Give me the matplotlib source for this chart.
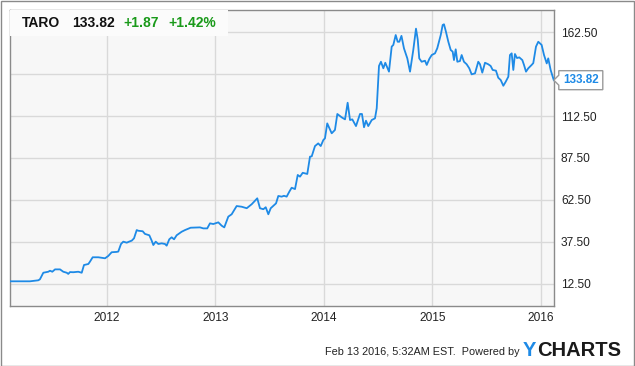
import matplotlib
matplotlib.use('Agg')
from matplotlib import pyplot as plt
from matplotlib.patches import Rectangle, Polygon

plt.rcParams['font.family'] = ['Liberation Sans', 'DejaVu Sans']

# TARO weekly-ish closes (decimal year, price)
years = [2011.106, 2011.290, 2011.367, 2011.382, 2011.413, 2011.459, 2011.475, 2011.496,
         2011.521, 2011.567, 2011.597, 2011.629, 2011.643, 2011.659, 2011.689, 2011.735,
         2011.767, 2011.788, 2011.828, 2011.843, 2011.868, 2011.920, 2011.982, 2012.012,
         2012.043, 2012.089, 2012.104, 2012.129, 2012.150, 2012.182, 2012.203, 2012.228,
         2012.249, 2012.274, 2012.288, 2012.329, 2012.350, 2012.390, 2012.412, 2012.427,
         2012.449, 2012.473, 2012.504, 2012.535, 2012.550, 2012.574, 2012.596, 2012.618,
         2012.642, 2012.688, 2012.719, 2012.771, 2012.857, 2012.888, 2012.924, 2012.949,
         2012.980, 2013.026, 2013.057, 2013.081, 2013.118, 2013.149, 2013.195, 2013.241,
         2013.288, 2013.334, 2013.385, 2013.410, 2013.441, 2013.463, 2013.487, 2013.509,
         2013.558, 2013.579, 2013.610, 2013.631, 2013.656, 2013.680, 2013.702, 2013.733,
         2013.758, 2013.779, 2013.804, 2013.846, 2013.871, 2013.887, 2013.917, 2013.947,
         2013.970, 2013.994, 2014.009, 2014.030, 2014.071, 2014.101, 2014.123, 2014.163,
         2014.194, 2014.218, 2014.240, 2014.261, 2014.295, 2014.332, 2014.350, 2014.369,
         2014.387, 2014.408, 2014.440, 2014.470, 2014.486, 2014.507, 2014.525, 2014.547,
         2014.565, 2014.599, 2014.624, 2014.639, 2014.661, 2014.679, 2014.694, 2014.714,
         2014.737, 2014.768, 2014.793, 2014.823, 2014.848, 2014.864, 2014.878, 2014.900,
         2014.931, 2014.947, 2014.971, 2014.993, 2015.023, 2015.044, 2015.076, 2015.094,
         2015.106, 2015.124, 2015.146, 2015.168, 2015.186, 2015.198, 2015.214, 2015.229,
         2015.253, 2015.269, 2015.290, 2015.315, 2015.339, 2015.361, 2015.392, 2015.422,
         2015.438, 2015.459, 2015.484, 2015.514, 2015.536, 2015.555, 2015.585, 2015.606,
         2015.629, 2015.653, 2015.675, 2015.699, 2015.714, 2015.730, 2015.745, 2015.760,
         2015.779, 2015.800, 2015.828, 2015.843, 2015.862, 2015.883, 2015.914, 2015.929,
         2015.954, 2015.975, 2016.006, 2016.028, 2016.053, 2016.067, 2016.089, 2016.118]
prices = [14.1, 14.1, 14.7, 15.3, 19.2, 19.8, 20.4, 19.8,
          21.2, 21.2, 19.8, 19.2, 18.5, 19.6, 19.5, 19.8,
          19.2, 23.8, 24.4, 25.8, 28.4, 28.4, 27.8, 29.2,
          31.4, 31.6, 31.8, 36.3, 37.7, 37.1, 37.7, 38.3,
          39.7, 44.6, 44.2, 43.9, 42.3, 41.5, 38.3, 35.7,
          37.7, 36.3, 36.7, 36.3, 35.3, 39.1, 40.3, 39.1,
          41.5, 43.6, 44.6, 46.0, 46.2, 45.6, 45.6, 48.6,
          48.2, 49.2, 47.2, 46.2, 52.6, 54.0, 58.9, 58.5,
          57.6, 60.0, 63.5, 57.6, 57.0, 58.2, 54.0, 57.6,
          60.5, 64.9, 64.5, 65.0, 64.5, 67.4, 69.8, 69.0,
          77.4, 76.4, 78.7, 78.0, 88.3, 88.5, 94.6, 96.2,
          94.6, 98.2, 99.2, 108.1, 102.2, 104.2, 113.7, 111.7,
          110.5, 120.4, 110.1, 110.5, 106.5, 113.7, 113.7, 105.8,
          109.7, 106.5, 110.1, 111.1, 117.1, 142.3, 144.8, 140.9,
          144.2, 138.9, 153.8, 154.8, 160.7, 156.7, 156.7, 160.2,
          152.8, 146.8, 138.9, 151.8, 164.5, 158.0, 146.8, 144.8,
          145.4, 142.9, 146.5, 148.8, 149.8, 152.8, 160.7, 166.7,
          167.1, 162.7, 156.7, 151.8, 150.8, 145.8, 152.2, 144.8,
          145.2, 148.8, 144.8, 143.3, 140.9, 137.3, 137.9, 144.8,
          143.3, 138.3, 144.2, 143.3, 142.3, 139.9, 139.5, 135.3,
          133.9, 130.5, 132.9, 135.9, 148.8, 149.8, 139.9, 149.4,
          147.0, 147.4, 145.8, 143.0, 138.9, 140.9, 142.9, 144.0,
          153.8, 156.7, 154.8, 148.8, 143.8, 146.8, 139.9, 133.82]

yticks = [12.5, 37.5, 62.5, 87.5, 112.5, 137.5, 162.5]
xticks = [2012, 2013, 2014, 2015, 2016]
ticker = 'TARO'
last = '133.82'
change = '+1.87'
change_pct = '+1.42%'

W, H = 635, 366
line_c = '#1e8ae6'
green = '#1a9a1a'

fig = plt.figure(figsize=(W / 100, H / 100), dpi=100)
fig.patch.set_facecolor('white')
ax = fig.add_axes([10 / W, 1 - 306 / H, 544 / W, 296 / H])
ax.set_facecolor('#f7f7f7')

ax.plot(years, prices, color=line_c, lw=1.3, zorder=3)

ax.set_xlim(2011.106, 2016.12)
ax.set_ylim(-0.6, 175.6)
ax.set_yticks(yticks)
ax.set_yticklabels(['%.2f' % v for v in yticks])
ax.set_xticks(xticks)
ax.set_xticklabels([str(v) for v in xticks])
ax.yaxis.tick_right()
ax.tick_params(length=0, labelsize=8.6, labelcolor='#222222')
ax.tick_params(axis='y', pad=5)
ax.tick_params(axis='x', pad=4)
ax.grid(True, color='#d9d9d9', lw=1)
ax.set_axisbelow(True)
for s in ax.spines.values():
    s.set_color('#8a8a8a')
    s.set_linewidth(1)

# title box
ax.add_patch(Rectangle((0, 1 - 26 / 296), 218 / 544, 26 / 296, transform=ax.transAxes,
                       facecolor='#fbfbfb', edgecolor='none', zorder=4))


def px(x, y):
    return x / W, 1 - y / H


ty = 23
fig.text(*px(22, ty), ticker, fontsize=10, fontweight='bold', color='#111111', va='center')
fig.text(*px(72, ty), last, fontsize=10, fontweight='bold', color='#111111', va='center')
fig.text(*px(123, ty), change, fontsize=10, fontweight='bold', color=green, va='center')
fig.text(*px(168, ty), change_pct, fontsize=10, fontweight='bold', color=green, va='center')

# last price tag: small pointer box at the last close
tx, tyd = ax.transData.transform((years[-1], prices[-1]))
tag = Polygon([(tx, tyd), (tx + 5, tyd + 5), (tx + 5, tyd + 9.5), (tx + 49, tyd + 9.5),
               (tx + 49, tyd - 9.5), (tx + 5, tyd - 9.5), (tx + 5, tyd - 5)],
              closed=True, transform=None, facecolor='white', edgecolor='#9a9a9a',
              lw=1, zorder=6)
fig.patches.append(tag)
fig.text((tx + 27.5) / W, (tyd + 0.5) / H, last, ha='center', va='center', fontsize=8.4,
         fontweight='bold', color=line_c, zorder=7)

# footer
fig.text(*px(520, 352), 'Feb 13 2016, 5:32AM EST.  Powered by', fontsize=7.8,
         color='#222222', va='center', ha='right')
fig.text(*px(523, 350), 'Y', fontsize=14.5, fontweight='bold', color=line_c, va='center')
fig.text(*px(537, 350), 'CHARTS', fontsize=14.5, fontweight='bold', color='#1a1a1a',
         va='center')

# outer border
fig.patches.append(Rectangle((0.5 / W, 0.5 / H), 1 - 1.5 / W, 1 - 1.5 / H,
                             transform=fig.transFigure, fill=False,
                             edgecolor='#8a8a8a', lw=1))

fig.savefig('out.png', dpi=100)
